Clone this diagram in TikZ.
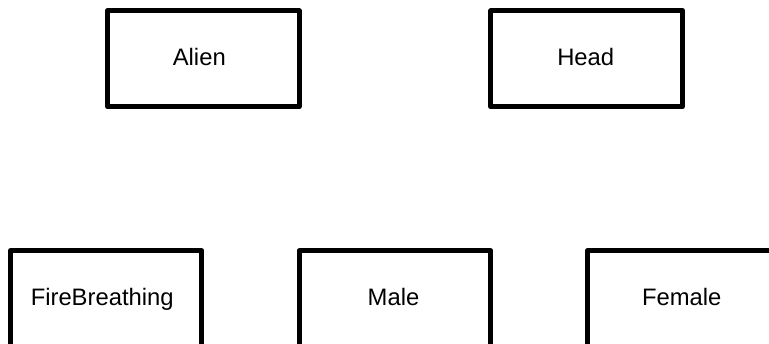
\documentclass[tikz,border=0pt]{standalone}
\usepackage{fontspec}
\setmainfont{Liberation Sans}
\begin{document}
\begin{tikzpicture}[x=1pt,y=-1pt,
  cls/.style={draw=black, line width=5pt, line join=round, rectangle, fill=white,
    minimum width=191.5pt, minimum height=96pt, inner sep=0pt, outer sep=0pt,
    text height=17pt, text depth=4pt,
    font=\fontsize{23.8}{28}\selectfont}]
\useasboundingbox (0,0) rectangle (769,343);
\clip (0,0) rectangle (769,343);
\fill[white] (0,0) rectangle (769,343);
\node[cls] (alien) at (203.3,58.8) {Alien\kern8pt};
\node[cls] (head) at (586.7,58.8) {Head\kern2pt};
\node[cls] (fire) at (106.2,298.8) {FireBreathing\kern8pt};
\node[cls] (male) at (395,298.8) {Male\kern3pt};
\node[cls] (female) at (683.3,298.8) {Female\kern3pt};
\end{tikzpicture}
\end{document}
